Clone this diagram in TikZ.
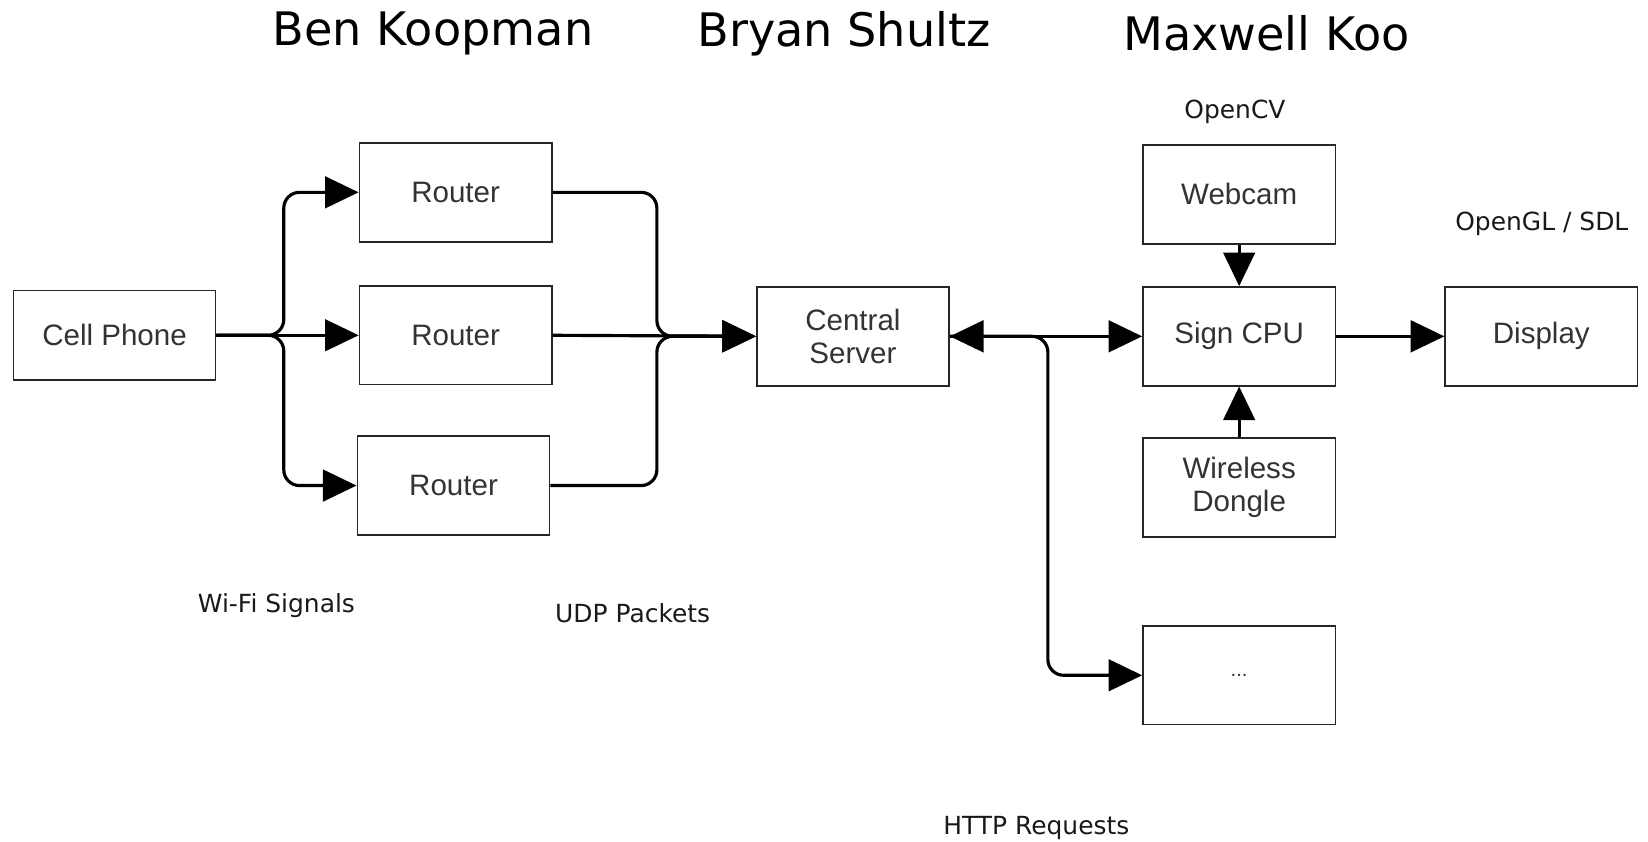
\documentclass[tikz,border=0pt]{standalone}
\usepackage{fontspec}
\setmainfont{DejaVu Sans}
\newfontfamily\boxfont{Liberation Sans}
\usetikzlibrary{arrows.meta}

\begin{document}
\begin{tikzpicture}[
  x=0.2mm, y=-0.2mm,
  blk/.style={draw=black!85, line width=0.3mm, minimum width=36.6mm, minimum height=18.8mm,
    align=center, font=\boxfont\fontsize{16}{18}\selectfont, text=black!80},
  lbl/.style={font=\fontsize{13.5}{16}\selectfont, text=black!90},
  ttl/.style={font=\fontsize{25}{30}\selectfont},
  ln/.style={line width=0.6mm, rounded corners=3mm},
  arr/.style={ln, -{Triangle[length=6.4mm,width=6mm]}}
]
\useasboundingbox (0,0) rectangle (1568,801);

% names
\node [ttl] (tben) at (412,32) {Ben Koopman};
\node [ttl] (tbry) at (803,32) {Bryan Shultz};
\node [ttl] (tmax) at (1205,32) {Maxwell Koo};

% boxes
\node [blk, minimum width=38.4mm, minimum height=17mm] (phone) at (109,319) {Cell Phone};
\node [blk] (rtra) at (433.5,183) {Router};
\node [blk] (rtrb) at (433.5,319) {Router};
\node [blk] (rtrc) at (431.5,462) {Router};
\node [blk] (server) at (811.5,320) {Central\\Server};
\node [blk] (webcam) at (1179,185) {Webcam};
\node [blk] (cpu) at (1179,320) {Sign CPU};
\node [blk] (dongle) at (1179,464) {Wireless\\Dongle};
\node [blk] (disp) at (1466.5,320) {Display};
\node [blk] (more) at (1179,642.5) {\fontsize{11}{12}\selectfont ...};

% labels
\node [lbl] (lcv) at (1175,106) {OpenCV};
\node [lbl] (lgl) at (1467,213) {OpenGL / SDL};
\node [lbl] (lwifi) at (263,576) {Wi-Fi Signals};
\node [lbl] (ludp) at (602,583) {UDP Packets};
\node [lbl] (lhttp) at (986,788) {HTTP Requests};

\coordinate (split) at (270,319);
\coordinate (merge) at (625,320);
\coordinate (fork) at (997,320);

% wi-fi
\draw [arr] (phone.east) -- (split) |- (rtra.west);
\draw [arr] (phone.east) -- (rtrb.west);
\draw [arr] (phone.east) -- (split) |- (rtrc.west);

% udp
\draw [arr] (rtra.east) -| (merge) -- (server.west);
\draw [arr] (rtrb.east) -- (server.west);
\draw [arr] (rtrc.east) -| (merge) -- (server.west);

% http
\draw [ln, {Triangle[length=6.4mm,width=6mm]}-{Triangle[length=6.4mm,width=6mm]}] (server.east) -- (cpu.west);
\draw [arr] (server.east) -- (fork) |- (more.west);

\draw [arr] (webcam) -- (cpu);
\draw [arr] (dongle) -- (cpu);
\draw [arr] (cpu) -- (disp);
\end{tikzpicture}
\end{document}
